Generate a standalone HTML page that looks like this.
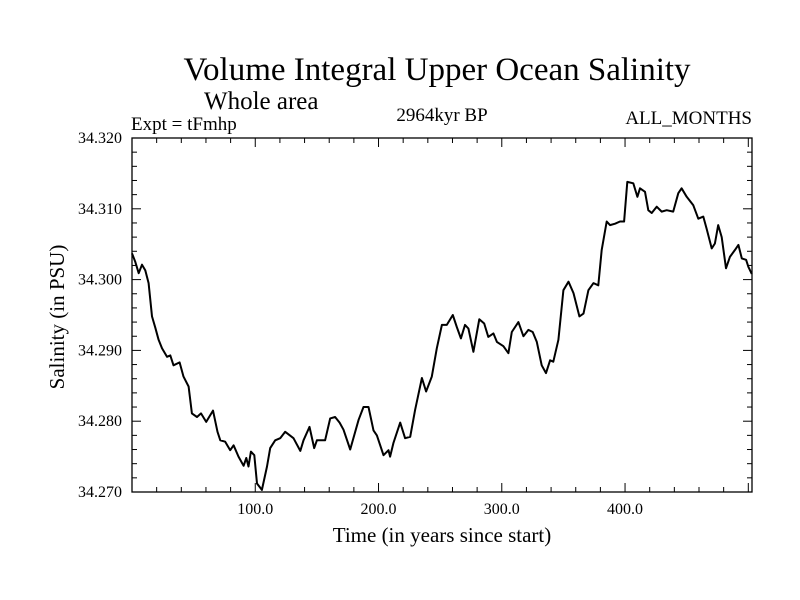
<!DOCTYPE html>
<html><head><meta charset="utf-8"><style>
html,body{margin:0;padding:0;background:#fff;}
svg{display:block;font-family:"Liberation Serif",serif;}
</style></head><body>
<svg id="chart" width="800" height="600" viewBox="0 0 800 600">
<text x="437" y="80" font-size="33" text-anchor="middle">Volume Integral Upper Ocean Salinity</text>
<text x="204" y="109" font-size="25">Whole area</text>
<text x="131" y="130" font-size="19">Expt = tFmhp</text>
<text x="442" y="121" font-size="19" text-anchor="middle">2964kyr BP</text>
<text x="752" y="124" font-size="19" text-anchor="end">ALL_MONTHS</text>
<text x="442" y="542" font-size="21" text-anchor="middle">Time (in years since start)</text>
<text transform="translate(64,317) rotate(-90)" font-size="21" text-anchor="middle">Salinity (in PSU)</text>
<g id="axes"></g>
<g id="series"></g>
</svg>
<script>
const years = [0,2.7,5.4,8.1,10.8,13.5,16.2,18.9,21.6,24.3,28.4,31.1,33.7,38.6,41.8,45.9,48.6,52.7,56.0,60.2,65.7,69.4,71.6,75.6,79.7,82.4,86.4,90.5,92.7,94.5,96.5,99.2,101.4,105.4,109.5,112.1,116.2,120.2,124.3,131.0,136.5,139.1,144.0,147.8,150.0,156.7,160.8,164.8,168.4,171.6,177.0,183.8,187.8,191.9,195.9,198.7,204.0,208.1,209.4,212.1,217.6,221.6,225.7,229.7,235.2,238.6,243.2,247.3,251.4,255.4,260.3,263.5,266.8,270.2,272.9,277.0,281.8,285.7,289.1,293.2,296.0,301.3,305.4,308.1,313.5,317.5,321.6,325.1,328.4,332.4,335.9,339.2,341.8,345.9,350.0,354.1,358.2,363.0,366.3,370.3,374.4,378.3,381.1,385.1,387.8,391.9,395.9,399.2,401.8,406.7,410.0,412.1,416.2,418.9,421.6,425.7,429.7,433.8,439.1,443.2,445.9,450.0,455.4,459.4,463.5,466.2,470.3,472.9,475.6,478.4,481.9,485.1,489.2,492.0,494.7,498.2,500.1,502.8];
const salinity = [34.3037,34.3025,34.3009,34.3021,34.3013,34.2995,34.2948,34.2932,34.2915,34.2903,34.2891,34.2893,34.2879,34.2883,34.2863,34.2849,34.2811,34.2806,34.2811,34.2799,34.2815,34.2785,34.2773,34.2771,34.2759,34.2766,34.2750,34.2737,34.2748,34.2736,34.2757,34.2752,34.2712,34.2703,34.2736,34.2762,34.2773,34.2776,34.2785,34.2776,34.2758,34.2773,34.2792,34.2762,34.2773,34.2773,34.2804,34.2806,34.2798,34.2788,34.2760,34.2802,34.2820,34.2820,34.2787,34.2780,34.2752,34.2759,34.2750,34.2769,34.2798,34.2776,34.2778,34.2816,34.2861,34.2842,34.2863,34.2903,34.2936,34.2936,34.2950,34.2933,34.2917,34.2936,34.2931,34.2898,34.2944,34.2938,34.2919,34.2924,34.2912,34.2906,34.2896,34.2926,34.2940,34.2920,34.2929,34.2926,34.2912,34.2879,34.2868,34.2886,34.2884,34.2915,34.2985,34.2997,34.2981,34.2948,34.2952,34.2985,34.2995,34.2992,34.3042,34.3082,34.3077,34.3079,34.3082,34.3082,34.3138,34.3136,34.3117,34.3129,34.3124,34.3098,34.3094,34.3103,34.3096,34.3098,34.3096,34.3122,34.3129,34.3117,34.3105,34.3086,34.3089,34.3072,34.3044,34.3051,34.3077,34.3060,34.3016,34.3032,34.3042,34.3049,34.3030,34.3028,34.3018,34.3008];
const xTickLabels = ["100.0","200.0","300.0","400.0"];
const xTickValues = [100,200,300,400];
const yTickLabels = ["34.270","34.280","34.290","34.300","34.310","34.320"];
const yTickValues = [34.270,34.280,34.290,34.300,34.310,34.320];

const L=132,R=752,T=138,B=492;
const xMin=0,xMax=503,yMin=34.270,yMax=34.320;
const NS="http://www.w3.org/2000/svg";
function sx(v){return L+(v-xMin)/(xMax-xMin)*(R-L);}
function sy(v){return B-(v-yMin)/(yMax-yMin)*(B-T);}
const axes=document.getElementById('axes');
function mk(tag,attrs,parent){const e=document.createElementNS(NS,tag);for(const k in attrs)e.setAttribute(k,attrs[k]);parent.appendChild(e);return e;}

const frame=mk('rect',{x:L,y:T,width:R-L,height:B-T,fill:'none',stroke:'#000','stroke-width':1.3},axes);



for(let v=20;v<xMax;v+=20){
  const major=(v%100===0);const len=major?9:5;const x=sx(v);
  const t1=mk('line',{x1:x,y1:B,x2:x,y2:B-len,stroke:'#000','stroke-width':1},axes);
  
  
  const t2=mk('line',{x1:x,y1:T,x2:x,y2:T+len,stroke:'#000','stroke-width':1},axes);
  
  
}
xTickValues.forEach((v,i)=>{
  const t=mk('text',{x:sx(v),y:B+22,'font-size':16,'text-anchor':'middle'},axes);
  t.textContent=xTickLabels[i];
  
  
});
for(let k=1;k<25;k++){
  const v=yMin+k*0.002;const major=(k%5===0);const len=major?9:5;const y=sy(v);
  const t1=mk('line',{x1:L,y1:y,x2:L+len,y2:y,stroke:'#000','stroke-width':1},axes);
  
  
  const t2=mk('line',{x1:R,y1:y,x2:R-len,y2:y,stroke:'#000','stroke-width':1},axes);
  
  
}
yTickValues.forEach((v,i)=>{
  const t=mk('text',{x:L-10,y:sy(v)+5,'font-size':16,'text-anchor':'end'},axes);
  t.textContent=yTickLabels[i];
  
  
});
let d='';
years.forEach((yr,i)=>{d+=(i?'L':'M')+sx(yr).toFixed(1)+','+sy(salinity[i]).toFixed(1);});
const line=mk('path',{d:d,fill:'none',stroke:'#000','stroke-width':2,'stroke-linejoin':'round'},document.getElementById('series'));


</script>
</body></html>
